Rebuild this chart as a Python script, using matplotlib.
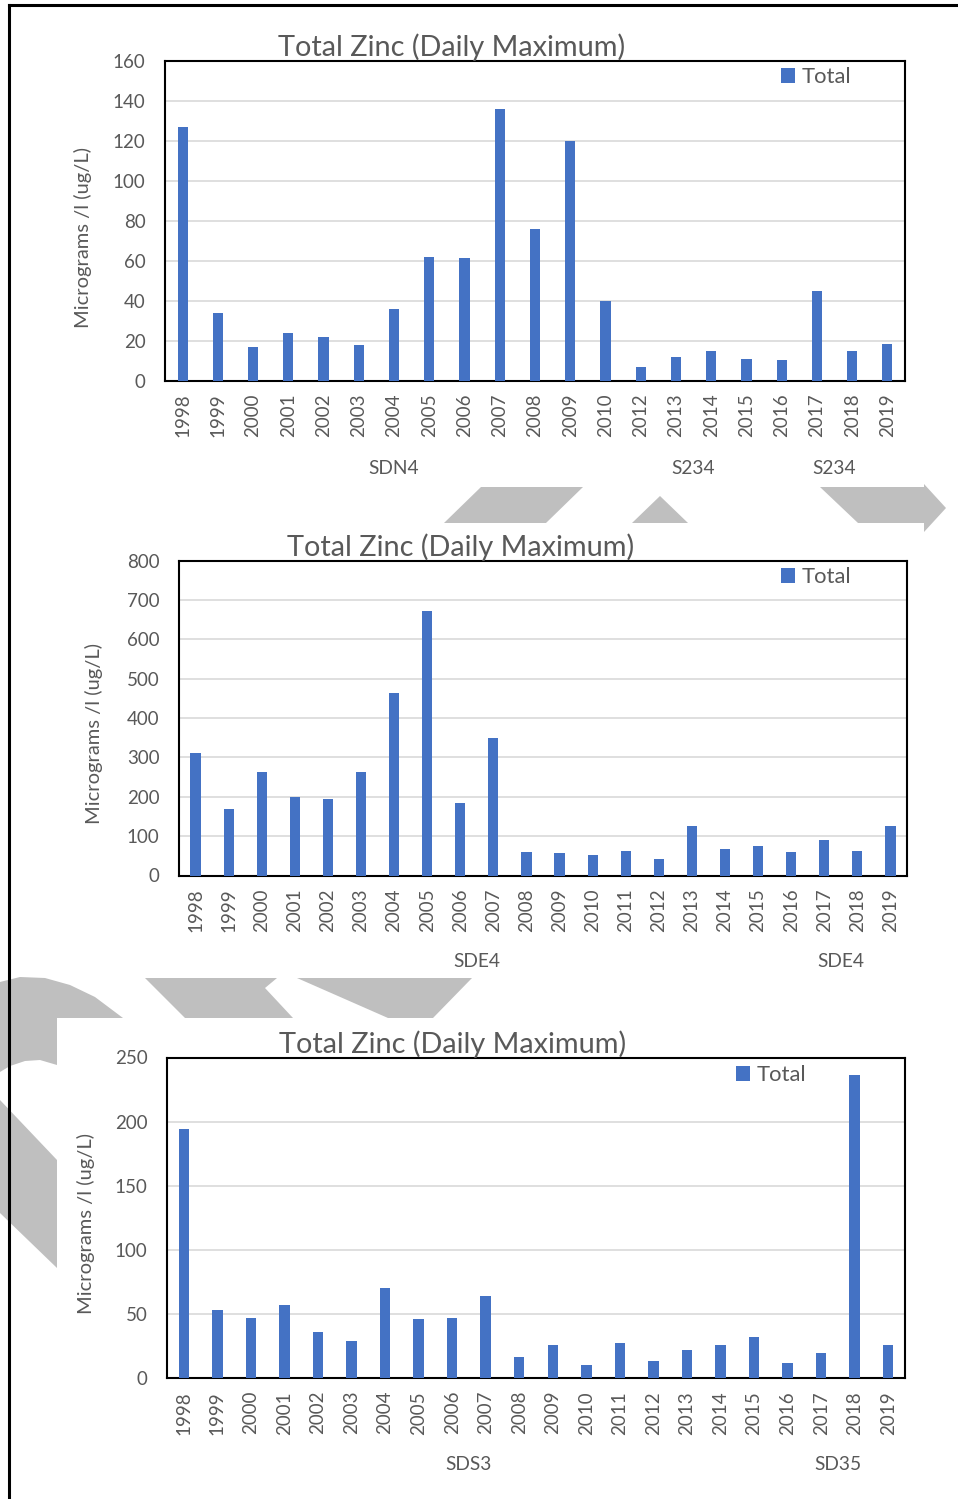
import matplotlib
matplotlib.use("Agg")
import matplotlib.pyplot as plt
from matplotlib.patches import Polygon
from matplotlib.lines import Line2D
from matplotlib.transforms import blended_transform_factory

plt.rcParams['font.family'] = ['Lato', 'DejaVu Sans']

W, H = 958, 1499

BAR_BLUE = '#4472C4'
TEXT_GREY = '#595959'
GRID_GREY = '#D9D9D9'
SHAPE_GREY = '#BFBFBF'

TITLE = 'Total Zinc (Daily Maximum)'
Y_LABEL = 'Micrograms /l (ug/L)'
SERIES_NAME = 'Total'

# --- Panel 1: SDN4 / S234 (no 2011 sample) ---
years_n = ['1998', '1999', '2000', '2001', '2002', '2003', '2004', '2005', '2006',
           '2007', '2008', '2009', '2010', '2012', '2013', '2014', '2015', '2016',
           '2017', '2018', '2019']
zinc_n = [127, 34, 17, 24, 22, 18, 36, 62, 61.5, 136, 76, 120, 40,
          7, 12, 15, 11, 10.5, 45, 15, 18.5]
groups_n = [('SDN4', 13), ('S234', 4), ('S234', 4)]
yticks_n = [0, 20, 40, 60, 80, 100, 120, 140, 160]

# --- Panel 2: SDE4 ---
years_e = [str(y) for y in range(1998, 2020)]
zinc_e = [311, 168, 262, 199, 195, 262, 463, 673, 185, 350, 59,
          57, 53, 62, 42, 126, 68, 76, 59, 90, 62, 126]
groups_e = [('SDE4', 18), ('SDE4', 4)]
yticks_e = [0, 100, 200, 300, 400, 500, 600, 700, 800]

# --- Panel 3: SDS3 / SD35 ---
years_s = [str(y) for y in range(1998, 2020)]
zinc_s = [194, 53, 47, 56.5, 36, 28.5, 70, 45.5, 47, 64, 16,
          25.5, 10, 27, 13, 22, 25.5, 31.5, 11.5, 19.5, 236, 25.5]
groups_s = [('SDS3', 18), ('SD35', 4)]
yticks_s = [0, 50, 100, 150, 200, 250]


def fx(x):
    return x / W


def fy(y):
    return 1 - y / H


def draw_panel(fig, frame, years, values, yticks, groups, title_pos,
               ylabel_pos, group_y, legend_pos, bar_width):
    l, t, r, b = frame
    ax = fig.add_axes([fx(l), fy(b), (r - l) / W, (b - t) / H])
    n = len(years)
    xs = list(range(n))
    bars = ax.bar(xs, values, width=bar_width, color=BAR_BLUE, zorder=3)
    ax.set_xlim(-0.5, n - 0.5)
    ax.set_ylim(yticks[0], yticks[-1])
    ax.set_yticks(yticks)
    ax.yaxis.grid(True, color=GRID_GREY, lw=1.2)
    ax.set_axisbelow(True)
    ax.set_xticks(xs)
    ax.set_xticklabels(years, rotation=90)
    ax.tick_params(axis='y', length=0, pad=14, labelsize=13.5,
                   labelcolor=TEXT_GREY)
    ax.tick_params(axis='x', length=0, pad=9.5, labelsize=13.5,
                   labelcolor=TEXT_GREY)
    for sp in ax.spines.values():
        sp.set_color('black')
        sp.set_linewidth(1.5)

    fig.text(fx(title_pos[0]), fy(title_pos[1]), TITLE, ha='center',
             va='baseline', fontsize=20.8, color=TEXT_GREY)
    fig.text(fx(ylabel_pos[0]), fy(ylabel_pos[1]), Y_LABEL, rotation=90,
             ha='center', va='center', fontsize=14.5, color=TEXT_GREY)

    trans = blended_transform_factory(ax.transData, fig.transFigure)
    start = 0
    for name, count in groups:
        centre = start + (count - 1) / 2
        ax.text(centre, fy(group_y), name, transform=trans, ha='center',
                va='center', fontsize=13.8, color=TEXT_GREY)
        start += count

    ax.legend([bars], [SERIES_NAME], loc='center left',
              bbox_to_anchor=(fx(legend_pos[0]), fy(legend_pos[1])),
              bbox_transform=fig.transFigure, frameon=False,
              handlelength=0.62, handleheight=0.7, handletextpad=0.3,
              borderpad=0, borderaxespad=0, fontsize=15.8,
              labelcolor=TEXT_GREY)
    return ax


fig = plt.figure(figsize=(W / 100, H / 100), dpi=100)

# Background arrow shapes between the panels
shapes = [
    [(444, 523), (481, 487), (583, 487), (546, 523)],
    [(632, 523), (660, 496), (688, 523)],
    [(820, 487), (924, 487), (924, 484), (946, 508), (924, 532),
     (924, 523), (858, 523)],
    [(0, 982), (20, 977), (45, 978), (70, 985), (95, 997), (123, 1018),
     (57, 1018), (57, 1065), (40, 1060), (25, 1061), (10, 1066), (0, 1072)],
    [(0, 1100), (57, 1160), (57, 1268), (0, 1213)],
    [(145, 978), (277, 978), (265, 988), (293, 1018), (185, 1018)],
    [(297, 978), (472, 978), (433, 1018), (388, 1018)],
]
for pts in shapes:
    fig.add_artist(Polygon([(fx(x), fy(y)) for x, y in pts], closed=True,
                           transform=fig.transFigure, facecolor=SHAPE_GREY,
                           edgecolor='none', zorder=0))

# Page border
fig.add_artist(Line2D([fx(8.5), fx(8.5)], [0, fy(4.5)], color='black',
                      lw=2.2, transform=fig.transFigure))
fig.add_artist(Line2D([fx(8.5), 1], [fy(4.5), fy(4.5)], color='black',
                      lw=2.2, transform=fig.transFigure))

draw_panel(fig, (165, 61, 905, 380.5), years_n, zinc_n, yticks_n, groups_n,
           title_pos=(452, 56), ylabel_pos=(83, 237), group_y=468,
           legend_pos=(781, 77), bar_width=0.29)
draw_panel(fig, (179, 560.5, 907, 875.5), years_e, zinc_e, yticks_e, groups_e,
           title_pos=(461, 556), ylabel_pos=(94, 733), group_y=961,
           legend_pos=(781, 577), bar_width=0.31)
draw_panel(fig, (167, 1057.5, 905, 1377.7), years_s, zinc_s, yticks_s,
           groups_s, title_pos=(453, 1053), ylabel_pos=(86, 1224),
           group_y=1465, legend_pos=(736, 1075), bar_width=0.31)

fig.savefig('out.png', dpi=100, facecolor='white')
